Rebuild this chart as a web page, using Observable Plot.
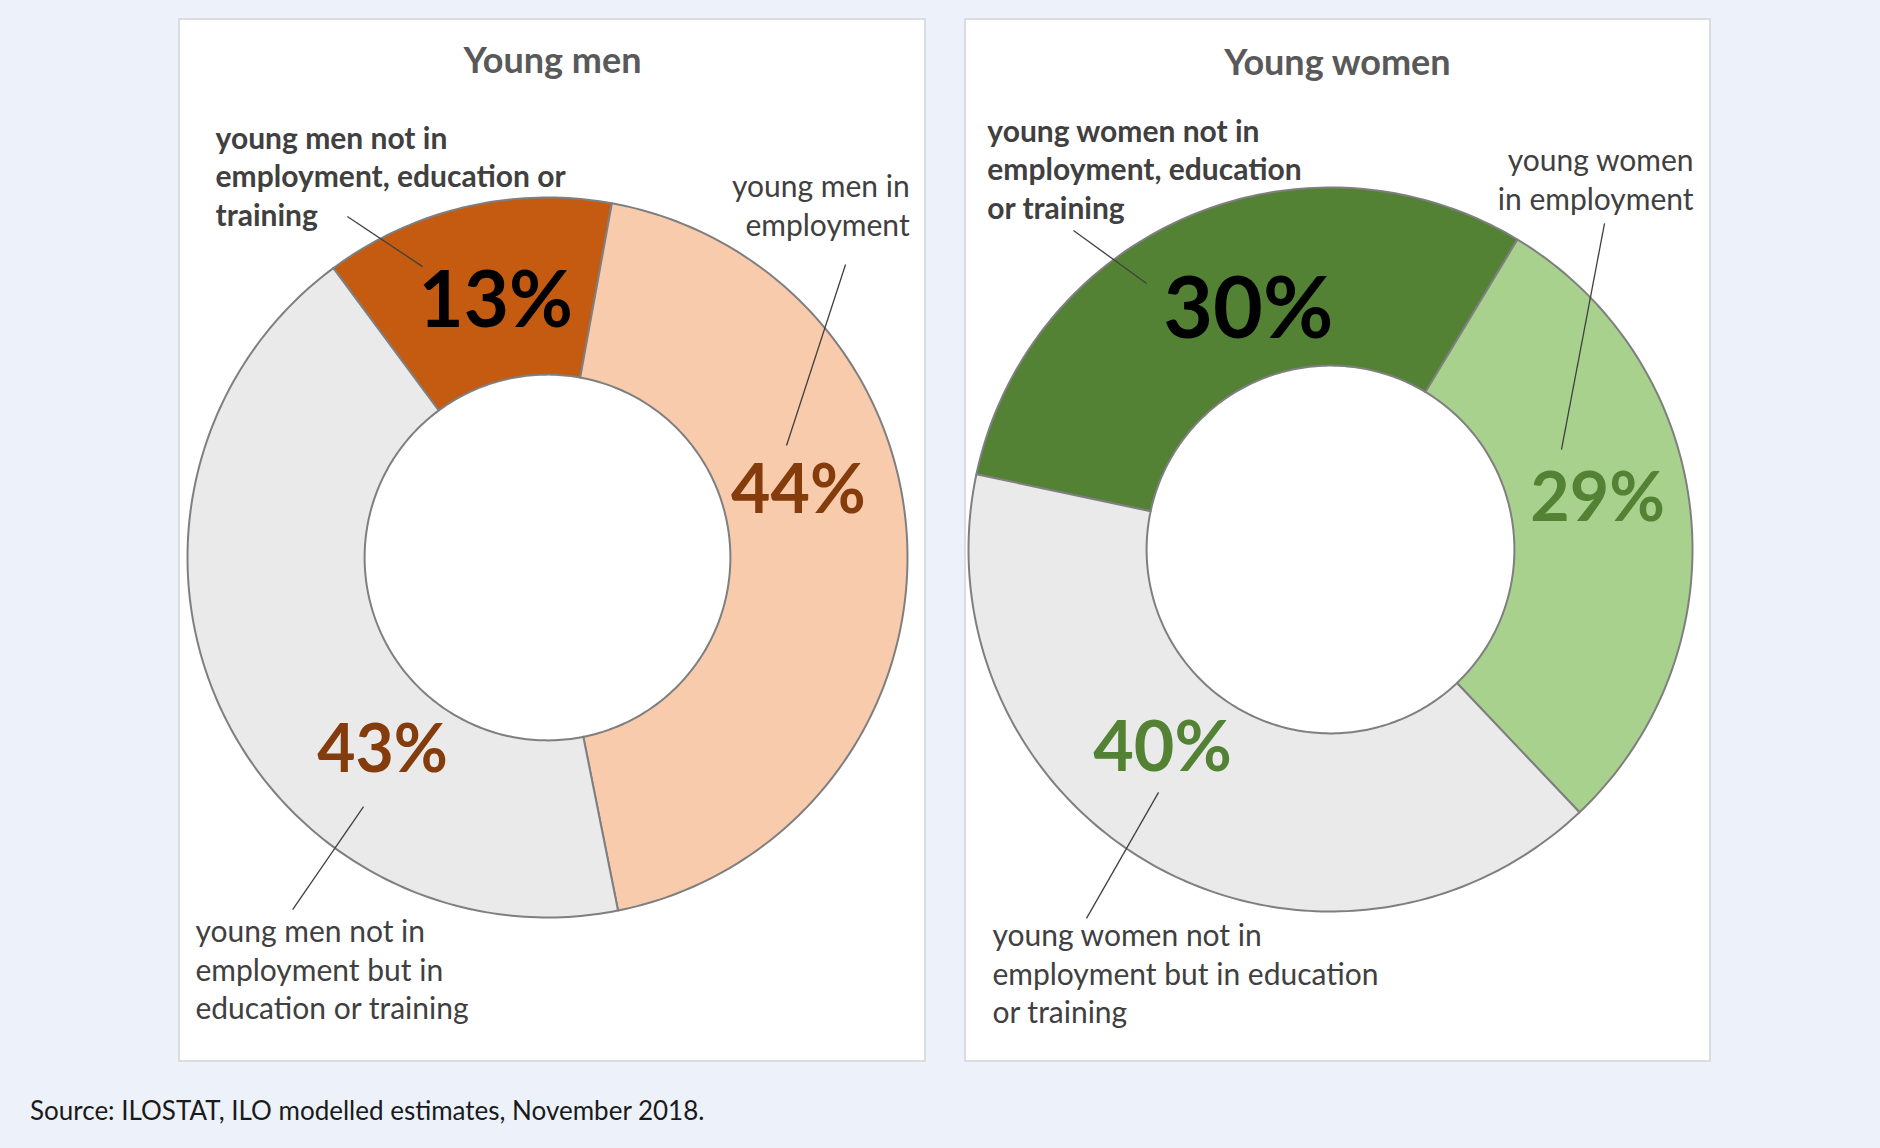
<!DOCTYPE html>
<html>
<head>
<meta charset="utf-8">
<script src="https://cdn.jsdelivr.net/npm/d3@7"></script>
<script src="https://cdn.jsdelivr.net/npm/@observablehq/plot@0.6"></script>
<style>
  html, body { margin: 0; padding: 0; background: #EDF2FA; }
  #page { position: relative; width: 1880px; height: 1148px; overflow: hidden; font-family: Lato, "Open Sans", sans-serif; }
  .panel { position: absolute; top: 20px; height: 1040px; background: #ffffff; box-shadow: 0 0 0 2px #DADCDF; }
  .panel svg { display: block; }
  #source { position: absolute; left: 30px; top: 1097px; font-size: 26px; line-height: 26px; color: #1a1a1a; white-space: nowrap; }
</style>
</head>
<body>
<div id="page">
  <div class="panel" id="men" style="left:180px;width:744px"></div>
  <div class="panel" id="women" style="left:966px;width:743px"></div>
  <div id="source"></div>
</div>
<script>
// ---------------- data ----------------
const panelTitles = ["Young men", "Young women"];
const menCategories = [
  "young men not in employment, education or training",
  "young men in employment",
  "young men not in employment but in education or training"
];
const menValues = [13, 44, 43];
const menLabels = [
  "young men not in\nemployment, education or\ntraining",
  "young men in\nemployment",
  "young men not in\nemployment but in\neducation or training"
];
const womenCategories = [
  "young women not in employment, education or training",
  "young women in employment",
  "young women not in employment but in education or training"
];
const womenValues = [30, 29, 40];
const womenLabels = [
  "young women not in\nemployment, education\nor training",
  "young women\nin employment",
  "young women not in\nemployment but in education\nor training"
];
const sourceNote = "Source: ILOSTAT, ILO modelled estimates, November 2018.";

// ---------------- layout / style ----------------
const layout = {
  men: {
    width: 744, cx: 367, cy: 537, R: 360, inner: 0.508, start: -36.5,
    colors: ["#C55A11", "#F8CBAD", "#EAEAEA"],
    title: [0.014, -1.347],
    pct: [[-0.144, -0.639], [0.697, -0.125], [-0.458, 0.597]],
    pctSize: [78, 68, 66],
    pctColor: ["#000000", "#843C0C", "#843C0C"],
    label: [[-0.922, -0.922, "start", "bold"], [1.006, -0.894, "end", "normal"], [-0.978, 1.283, "start", "normal"]],
    leader: [[-0.556, -0.947, -0.347, -0.808], [0.828, -0.814, 0.664, -0.311], [-0.511, 0.692, -0.708, 0.978]]
  },
  women: {
    width: 743, cx: 364, cy: 529, R: 362, inner: 0.508, start: -78,
    colors: ["#548235", "#A9D18E", "#EAEAEA"],
    title: [0.019, -1.312],
    pct: [[-0.227, -0.583], [0.738, -0.080], [-0.464, 0.613]],
    pctSize: [86, 68, 70],
    pctColor: ["#000000", "#548235", "#548235"],
    label: [[-0.948, -0.914, "start", "bold"], [1.003, -0.939, "end", "normal"], [-0.934, 1.309, "start", "normal"]],
    leader: [[-0.710, -0.881, -0.508, -0.735], [0.757, -0.901, 0.638, -0.276], [-0.475, 0.671, -0.674, 1.019]]
  }
};

const rad = Math.PI / 180;

function ringVertices(categories, values, startDeg, inner) {
  const total = d3.sum(values);
  const pts = [];
  let a = startDeg;
  categories.forEach((cat, i) => {
    const a0 = a, a1 = a + values[i] / total * 360;
    a = a1;
    const n = Math.max(4, Math.ceil(a1 - a0));
    const ts = d3.range(n + 1).map(k => a0 + (a1 - a0) * k / n);
    const ring = [];
    ts.forEach(t => ring.push({cat, x: Math.sin(t * rad), y: -Math.cos(t * rad)}));
    ts.slice().reverse().forEach(t => ring.push({cat, x: inner * Math.sin(t * rad), y: -inner * Math.cos(t * rad)}));
    ring.push({...ring[0]});
    pts.push(...ring);
  });
  return pts;
}

function donut(title, categories, values, labels, L) {
  const marks = [];
  marks.push(Plot.line(ringVertices(categories, values, L.start, L.inner), {
    x: "x", y: "y", z: "cat", fill: "cat",
    stroke: "#7F7F7F", strokeWidth: 2, strokeLinejoin: "round", curve: "linear"
  }));
  // leader lines
  categories.forEach((cat, i) => {
    const [x1, y1, x2, y2] = L.leader[i];
    marks.push(Plot.link([cat], {x1: x1, y1: y1, x2: x2, y2: y2, stroke: "#404040", strokeWidth: 1.3}));
  });
  // category labels
  categories.forEach((cat, i) => {
    const [lx, ly, anchor, weight] = L.label[i];
    marks.push(Plot.text([labels[i]], {
      x: lx, y: ly, text: d => d, textAnchor: anchor, lineAnchor: "bottom",
      lineHeight: 1.283, fontSize: 30, fontWeight: weight, fill: "#404040"
    }));
  });
  // percentages
  values.forEach((v, i) => {
    const [px, py] = L.pct[i];
    marks.push(Plot.text([v], {
      x: px, y: py, text: d => `${d}%`, textAnchor: "middle", lineAnchor: "bottom",
      fontSize: L.pctSize[i], fontWeight: "bold", fill: L.pctColor[i]
    }));
  });
  // title
  marks.push(Plot.text([title], {
    x: L.title[0], y: L.title[1], text: d => d, textAnchor: "middle", lineAnchor: "bottom",
    fontSize: 36, fontWeight: "bold", fill: "#595959"
  }));

  return Plot.plot({
    width: L.width, height: 1040, margin: 0,
    x: {domain: [-1, 1], range: [L.cx - L.R, L.cx + L.R], axis: null},
    y: {domain: [-1, 1], range: [L.cy - L.R, L.cy + L.R], axis: null},
    color: {domain: categories, range: L.colors},
    style: {fontFamily: "Lato, 'Open Sans', sans-serif", background: "transparent", overflow: "visible"},
    marks
  });
}

document.getElementById("men").appendChild(donut(panelTitles[0], menCategories, menValues, menLabels, layout.men));
document.getElementById("women").appendChild(donut(panelTitles[1], womenCategories, womenValues, womenLabels, layout.women));
document.getElementById("source").textContent = sourceNote;
</script>
</body>
</html>
